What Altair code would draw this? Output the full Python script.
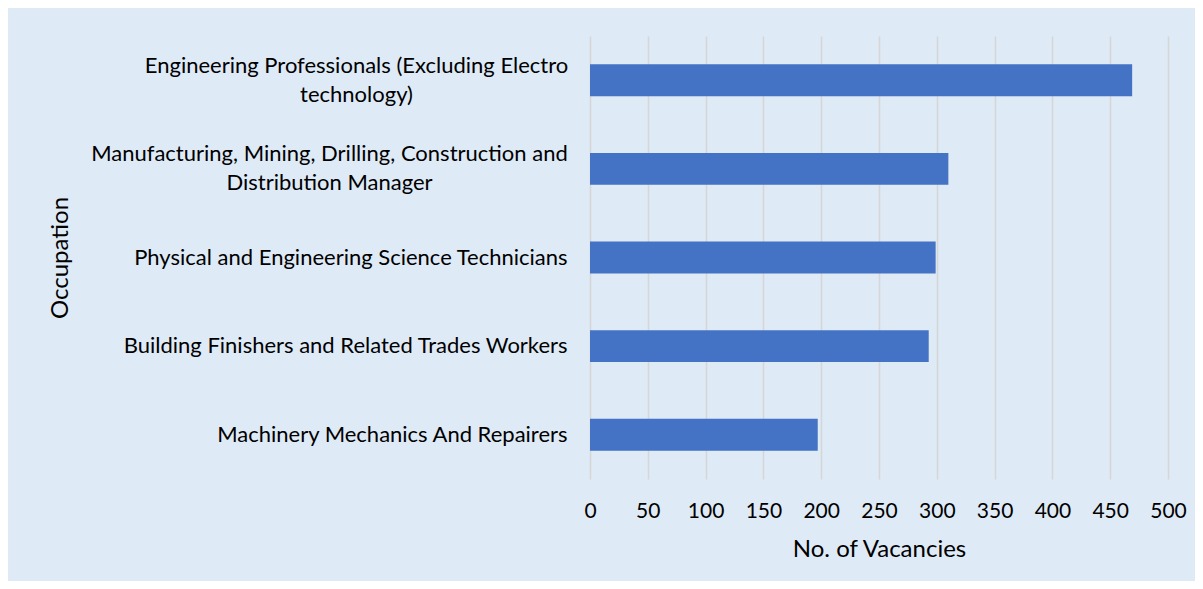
import altair as alt
import pandas as pd

occupations = [
    "Engineering Professionals (Excluding Electro\ntechnology)",
    "Manufacturing, Mining, Drilling, Construction and\nDistribution Manager",
    "Physical and Engineering Science Technicians",
    "Building Finishers and Related Trades Workers",
    "Machinery Mechanics And Repairers",
]
vacancies = [469, 310, 299, 293, 197]
x_ticks = [0, 50, 100, 150, 200, 250, 300, 350, 400, 450, 500]

df = pd.DataFrame({"Occupation": occupations, "Vacancies": vacancies})

FONT = "Lato"
BG = "#DEEAF6"

multi = "indexof(datum.value, '\\n') >= 0"

chart = (
    alt.Chart(df)
    .mark_bar(color="#4472C4")
    .encode(
        x=alt.X(
            "Vacancies:Q",
            title="No. of Vacancies",
            scale=alt.Scale(domain=[0, 500], nice=False),
            axis=alt.Axis(
                values=x_ticks,
                grid=True,
                gridColor="#D6D6D6",
                gridWidth=1.5,
                domain=False,
                ticks=False,
                labelFlush=False,
                labelOverlap=False,
                labelFont=FONT,
                labelFontSize=21,
                labelColor="#000000",
                labelPadding=21,
                titleFont=FONT,
                titleFontSize=24,
                titleFontWeight="normal",
                titleColor="#000000",
                titlePadding=16,
            ),
        ),
        y=alt.Y(
            "Occupation:N",
            sort=occupations,
            title="Occupation",
            scale=alt.Scale(paddingInner=0.64, paddingOuter=0.32),
            axis=alt.Axis(
                labelExpr="split(datum.label, '\\n')",
                labelOffset={"condition": {"test": multi, "value": -14.5}, "value": 0},
                labelAlign={"condition": {"test": multi, "value": "center"}, "value": "right"},
                labelPadding={
                    "condition": [
                        {"test": "indexof(datum.value, 'Engineering Professionals') == 0", "value": 234},
                        {"test": "indexof(datum.value, 'Manufacturing') == 0", "value": 261},
                    ],
                    "value": 23,
                },
                domain=False,
                ticks=False,
                grid=False,
                labelFont=FONT,
                labelFontSize=22,
                labelColor="#000000",
                labelLimit=700,
                labelLineHeight=29,
                titleFont=FONT,
                titleFontSize=24,
                titleFontWeight="normal",
                titleColor="#000000",
                titleX=-523,
                titleY=221.5,
                titleAngle=270,
                titleAlign="center",
                titleBaseline="alphabetic",
            ),
        ),
    )
    .properties(
        width=578,
        height=443,
        autosize=alt.AutoSizeParams(type="none"),
        padding={"left": 582, "top": 28, "right": 27, "bottom": 102},
        background=BG,
    )
    .configure_view(stroke=None, fill=BG)
)

chart.save("out.html", embed_options={"renderer": "svg", "actions": False})
